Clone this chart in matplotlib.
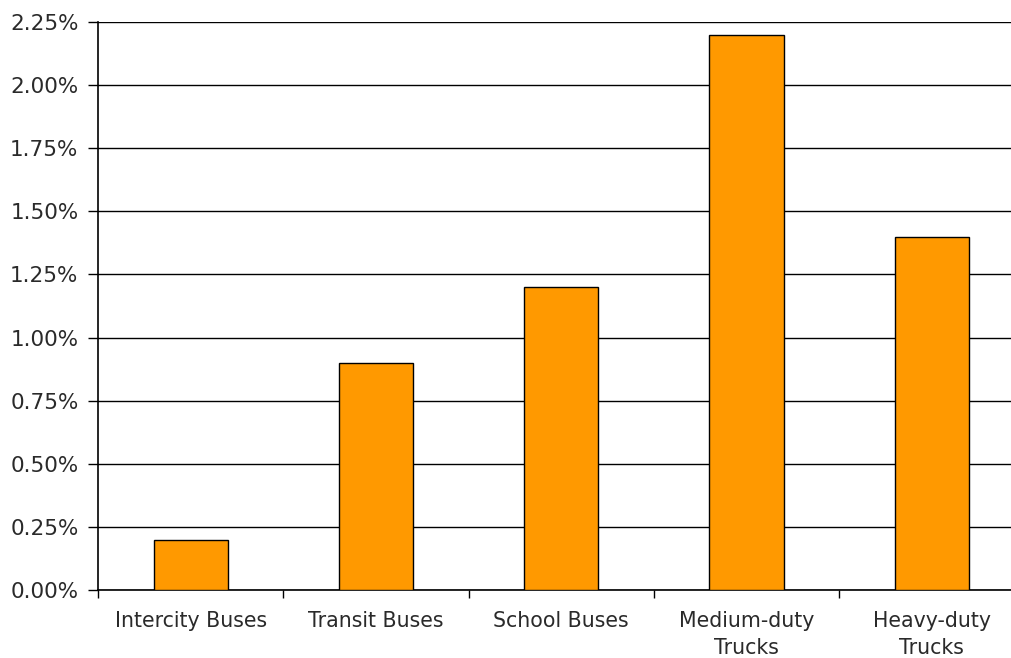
import matplotlib
matplotlib.use("Agg")
import matplotlib.pyplot as plt
from matplotlib.ticker import FuncFormatter, FixedLocator

categories = ["Intercity Buses", "Transit Buses", "School Buses", "Medium-duty\nTrucks", "Heavy-duty\nTrucks"]
values = [0.20, 0.90, 1.20, 2.20, 1.40]
yticks = [0.00, 0.25, 0.50, 0.75, 1.00, 1.25, 1.50, 1.75, 2.00, 2.25]

plt.rcParams['font.family'] = ['DejaVu Sans']

fig = plt.figure(figsize=(10.11, 6.58), dpi=100)
W, H = 1011, 658
left_px, bottom_px, top_px = 98, 590, 22
cat_w = 185.3
ax = fig.add_axes([left_px / W, (H - bottom_px) / H, 5 * cat_w / W, (bottom_px - top_px) / H])

x = list(range(len(categories)))
ax.bar(x, values, width=0.4, color="#FF9900", edgecolor="black", linewidth=1.0, zorder=3)

ax.set_xlim(-0.5, len(categories) - 0.5)
ax.set_ylim(0, 2.25)
ax.set_yticks(yticks)
ax.yaxis.set_major_formatter(FuncFormatter(lambda v, p: f"{v:.2f}%"))
ax.yaxis.grid(True, color="black", linewidth=1.0, zorder=0)
ax.set_axisbelow(True)

ax.xaxis.set_major_locator(FixedLocator([i - 0.5 for i in range(len(categories) + 1)]))
ax.set_xticklabels([])
ax.set_xticks(x, minor=True)
ax.set_xticklabels(categories, minor=True, fontsize=14.8, color="#2a2a2a", linespacing=1.45)
ax.tick_params(axis="x", which="minor", length=0, pad=15)
ax.tick_params(axis="x", which="major", length=6, width=1, color="black")
ax.tick_params(axis="y", length=7, width=1, color="black", labelsize=15.5, labelcolor="#2a2a2a", pad=7)

for s in ["top", "right"]:
    ax.spines[s].set_visible(False)
for s in ["left", "bottom"]:
    ax.spines[s].set_color("black")
    ax.spines[s].set_linewidth(1.2)

fig.savefig("out.png", dpi=100)
